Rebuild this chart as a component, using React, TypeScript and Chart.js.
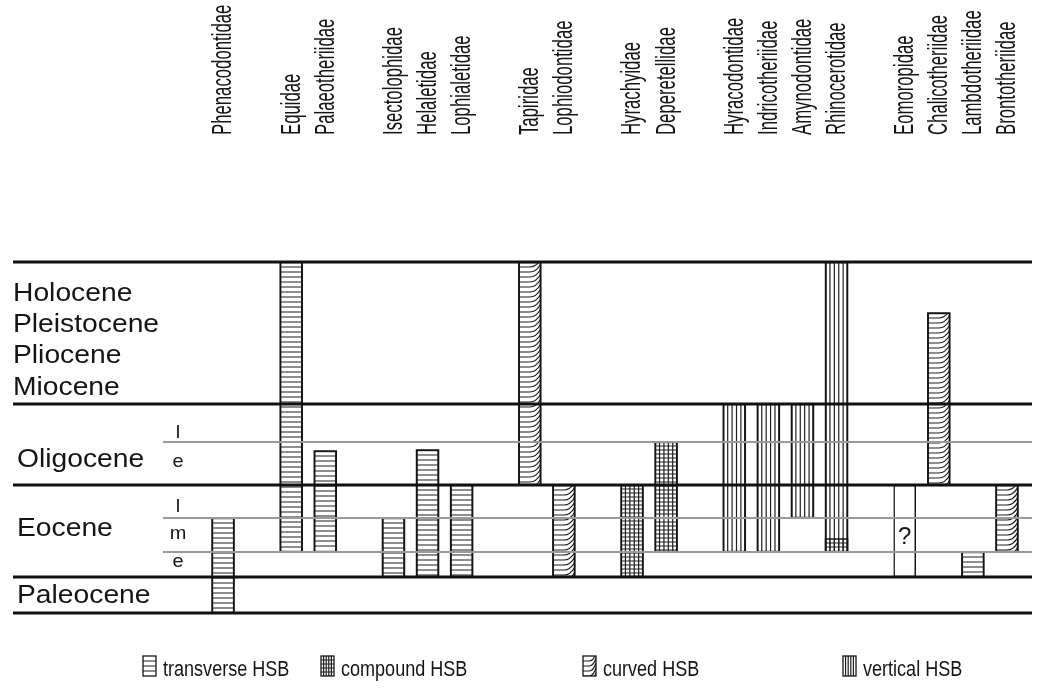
import React, { useEffect, useRef } from "react";
import { Chart, registerables } from "chart.js";
Chart.register(...registerables);

// ---- categories (columns); "" = spacer column between groups ----
const columns: string[] = [
  "Phenacodontidae", "",
  "Equidae", "Palaeotheriidae", "",
  "Isectolophidae", "Helaletidae", "Lophialetidae", "",
  "Tapiridae", "Lophiodontidae", "",
  "Hyrachyidae", "Deperetellidae", "",
  "Hyracodontidae", "Indricotheriidae", "Amynodontidae", "Rhinocerotidae", "",
  "Eomoropidae", "Chalicotheriidae", "Lambdotheriidae", "Brontotheriidae",
];

// ---- time scale (relative units, bottom = 0) ----
const PALEOCENE_BASE = 0;
const EOCENE_BASE = 36;
const EOCENE_M_BASE = 61;
const EOCENE_L_BASE = 95;
const OLIGOCENE_BASE = 128;
const OLIGOCENE_L_BASE = 171;
const MIOCENE_BASE = 209;
const TOP = 351;

const majorBoundaries = [PALEOCENE_BASE, EOCENE_BASE, OLIGOCENE_BASE, MIOCENE_BASE, TOP];
const minorBoundaries = [EOCENE_M_BASE, EOCENE_L_BASE, OLIGOCENE_L_BASE];

// epoch labels: [text, value of baseline]
const upperEpochLabels: [string, number][] = [
  ["Holocene", 312], ["Pleistocene", 281], ["Pliocene", 250], ["Miocene", 218],
];
const lowerEpochLabels: [string, number][] = [
  ["Oligocene", 146], ["Eocene", 77], ["Paleocene", 10],
];
const subLabels: [string, number][] = [
  ["l", 175], ["e", 146], ["l", 101], ["m", 74], ["e", 46],
];

// ---- ranges per enamel type: [family, start, end] ----
const transverseRanges: [string, number, number][] = [
  ["Phenacodontidae", PALEOCENE_BASE, EOCENE_L_BASE],
  ["Equidae", EOCENE_M_BASE, TOP],
  ["Palaeotheriidae", EOCENE_M_BASE, 162],
  ["Isectolophidae", EOCENE_BASE, EOCENE_L_BASE],
  ["Helaletidae", EOCENE_BASE, 163],
  ["Lophialetidae", EOCENE_BASE, OLIGOCENE_BASE],
  ["Lambdotheriidae", EOCENE_BASE, EOCENE_M_BASE],
];
const compoundRanges: [string, number, number][] = [
  ["Hyrachyidae", EOCENE_BASE, OLIGOCENE_BASE],
  ["Deperetellidae", EOCENE_M_BASE, OLIGOCENE_L_BASE],
  ["Rhinocerotidae", EOCENE_M_BASE, 74],
];
const curvedRanges: [string, number, number][] = [
  ["Tapiridae", OLIGOCENE_BASE, TOP],
  ["Lophiodontidae", EOCENE_BASE, OLIGOCENE_BASE],
  ["Chalicotheriidae", OLIGOCENE_BASE, 300],
  ["Brontotheriidae", EOCENE_M_BASE, OLIGOCENE_BASE],
];
const verticalRanges: [string, number, number][] = [
  ["Hyracodontidae", EOCENE_M_BASE, MIOCENE_BASE],
  ["Indricotheriidae", EOCENE_M_BASE, MIOCENE_BASE],
  ["Amynodontidae", EOCENE_L_BASE, MIOCENE_BASE],
  ["Rhinocerotidae", EOCENE_M_BASE, TOP],
];
const uncertainRanges: [string, number, number][] = [
  ["Eomoropidae", EOCENE_BASE, OLIGOCENE_BASE],
];

const legendItems: [string, string][] = [
  ["transverse HSB", "transverse"],
  ["compound HSB", "compound"],
  ["curved HSB", "curved"],
  ["vertical HSB", "vertical"],
];

const FONT = '"Liberation Sans", Arial, Helvetica, sans-serif';
const INK = "#151515";

function toData(ranges: [string, number, number][]) {
  return columns.map((c) => {
    const r = ranges.find((q) => q[0] === c);
    return r ? [r[1], r[2]] : null;
  });
}

function drawHatch(ctx: CanvasRenderingContext2D, kind: string, l: number, t: number, r: number, b: number) {
  const w = r - l;
  ctx.save();
  ctx.beginPath();
  ctx.rect(l, t, w, b - t);
  ctx.clip();
  ctx.strokeStyle = "#1e1e1e";
  ctx.lineWidth = 1.2;
  ctx.beginPath();
  if (kind === "transverse") {
    for (let y = t + 5; y < b - 1; y += 5) { ctx.moveTo(l, y); ctx.lineTo(r, y); }
  } else if (kind === "compound") {
    for (let y = t + 4; y < b - 1; y += 4) { ctx.moveTo(l, y); ctx.lineTo(r, y); }
    for (let k = 1; k < 5; k++) { const x = l + (w * k) / 5; ctx.moveTo(x, t); ctx.lineTo(x, b); }
  } else if (kind === "vertical") {
    for (let k = 1; k < 5; k++) { const x = l + (w * k) / 5; ctx.moveTo(x, t); ctx.lineTo(x, b); }
  } else if (kind === "curved") {
    for (let y = t + 5; y < b + 10; y += 5) {
      ctx.moveTo(l, y);
      ctx.lineTo(l + 0.5 * w, y);
      ctx.quadraticCurveTo(l + 0.8 * w, y, r, y - 8);
    }
  }
  ctx.stroke();
  ctx.restore();
}

function drawScaledText(ctx: CanvasRenderingContext2D, text: string, x: number, y: number, font: string, sx: number, align: CanvasTextAlign = "left") {
  ctx.save();
  ctx.translate(x, y);
  ctx.scale(sx, 1);
  ctx.font = font;
  ctx.fillStyle = INK;
  ctx.textAlign = align;
  ctx.textBaseline = "alphabetic";
  ctx.fillText(text, 0, 0);
  ctx.restore();
}

const decorPlugin = {
  id: "decor",
  afterDatasetsDraw(chart: any) {
    const ctx: CanvasRenderingContext2D = chart.ctx;
    const ys = chart.scales.y;
    const xs = chart.scales.x;
    // hatches inside each bar
    chart.data.datasets.forEach((ds: any, i: number) => {
      const meta = chart.getDatasetMeta(i);
      meta.data.forEach((el: any, j: number) => {
        if (ds.data[j] == null) return;
        const p = el.getProps(["x", "y", "base", "width"], true);
        const l = p.x - p.width / 2, r = p.x + p.width / 2;
        const t = Math.min(p.y, p.base), b = Math.max(p.y, p.base);
        if (ds.hatch) {
          drawHatch(ctx, ds.hatch, l, t, r, b);
          ctx.save();
          ctx.strokeStyle = INK;
          ctx.lineWidth = 1.5;
          ctx.strokeRect(l, t, r - l, b - t);
          ctx.restore();
        } else {
          drawScaledText(ctx, "?", p.x, ys.getPixelForValue((EOCENE_M_BASE + EOCENE_L_BASE) / 2) + 9, `24px ${FONT}`, 1, "center");
        }
      });
    });
    // boundary lines
    const right = 1032;
    ctx.save();
    ctx.strokeStyle = "#9a9a9a";
    ctx.lineWidth = 2;
    minorBoundaries.forEach((v) => {
      const y = ys.getPixelForValue(v);
      ctx.beginPath(); ctx.moveTo(163, y); ctx.lineTo(right, y); ctx.stroke();
    });
    ctx.strokeStyle = "#111";
    ctx.lineWidth = 3;
    majorBoundaries.forEach((v) => {
      const y = ys.getPixelForValue(v);
      ctx.beginPath(); ctx.moveTo(13, y); ctx.lineTo(right, y); ctx.stroke();
    });
    ctx.restore();
    // epoch labels
    upperEpochLabels.forEach(([txt, v]) => {
      drawScaledText(ctx, txt, 13, ys.getPixelForValue(v), `25px ${FONT}`, 1.13);
    });
    lowerEpochLabels.forEach(([txt, v]) => {
      drawScaledText(ctx, txt, 17, ys.getPixelForValue(v), `25px ${FONT}`, 1.13);
    });
    subLabels.forEach(([txt, v]) => {
      drawScaledText(ctx, txt, 178, ys.getPixelForValue(v), `19px ${FONT}`, 1.05, "center");
    });
    // family labels (rotated)
    columns.forEach((name, i) => {
      if (!name) return;
      const x = xs.getPixelForValue(i);
      ctx.save();
      ctx.translate(x + 1, 135);
      ctx.rotate(-Math.PI / 2);
      ctx.scale(0.62, 1);
      ctx.font = `27px ${FONT}`;
      ctx.fillStyle = INK;
      ctx.textAlign = "left";
      ctx.textBaseline = "middle";
      ctx.fillText(name, 0, 0);
      ctx.restore();
    });
    // legend
    const legendX = [143, 321, 583, 843];
    legendItems.forEach(([txt, kind], i) => {
      const lx = legendX[i];
      const top = 656, h = 20, w = 13;
      ctx.save();
      ctx.fillStyle = "#fff";
      ctx.fillRect(lx, top, w, h);
      ctx.restore();
      drawHatch(ctx, kind, lx, top, lx + w, top + h);
      ctx.save();
      ctx.strokeStyle = INK;
      ctx.lineWidth = 1.3;
      ctx.strokeRect(lx, top, w, h);
      ctx.restore();
      drawScaledText(ctx, txt, lx + w + 7, 676, `22px ${FONT}`, 0.82);
    });
  },
};

export default function App() {
  const ref = useRef<HTMLCanvasElement | null>(null);
  useEffect(() => {
    const canvas = ref.current;
    if (!canvas) return;
    const common = {
      backgroundColor: "#ffffff",
      borderColor: INK,
      borderWidth: 1.5,
      borderSkipped: false,
      barThickness: 22,
      grouped: false,
    };
    const chart = new Chart(canvas, {
      type: "bar",
      data: {
        labels: columns,
        datasets: [
          { ...common, label: "vertical HSB", hatch: "vertical", data: toData(verticalRanges) },
          { ...common, label: "compound HSB", hatch: "compound", data: toData(compoundRanges) },
          { ...common, label: "transverse HSB", hatch: "transverse", data: toData(transverseRanges) },
          { ...common, label: "curved HSB", hatch: "curved", data: toData(curvedRanges) },
          { ...common, label: "uncertain", hatch: null, data: toData(uncertainRanges) },
        ] as any,
      },
      options: {
        responsive: false,
        animation: false,
        devicePixelRatio: 1,
        layout: { padding: { left: 206, right: 15, top: 262, bottom: 77 } },
        scales: {
          x: { type: "category", display: false, offset: true, grid: { display: false } },
          y: { type: "linear", display: false, min: PALEOCENE_BASE, max: TOP },
        },
        plugins: { legend: { display: false }, tooltip: { enabled: false } },
      },
      plugins: [decorPlugin],
    });
    return () => chart.destroy();
  }, []);
  return (
    <div style={{ position: "fixed", left: 0, top: 0, width: 1039, height: 690, background: "#fff" }}>
      <canvas ref={ref} width={1039} height={690} style={{ display: "block" }} />
    </div>
  );
}
